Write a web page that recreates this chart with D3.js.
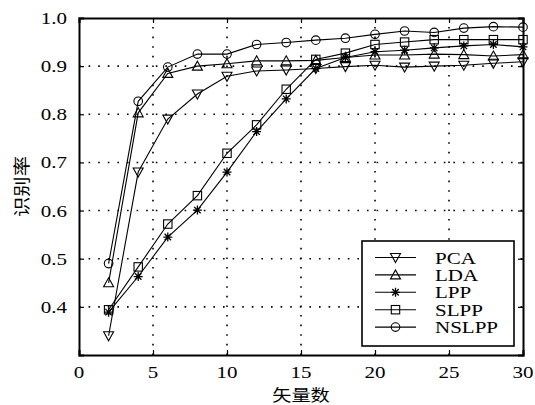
<!DOCTYPE html>
<html>
<head>
<meta charset="utf-8">
<script src="https://cdn.jsdelivr.net/npm/d3@7"></script>
<style>
  html, body { margin: 0; padding: 0; background: #fff; }
  svg { display: block; }
</style>
</head>
<body>
<div id="chart"></div>
<script>
// ---- data ----
const xValues = [2, 4, 6, 8, 10, 12, 14, 16, 18, 20, 22, 24, 26, 28, 30];
const seriesNames = ["PCA", "LDA", "LPP", "SLPP", "NSLPP"];
const pcaValues   = [0.340, 0.680, 0.790, 0.842, 0.879, 0.890, 0.892, 0.895, 0.899, 0.902, 0.898, 0.900, 0.902, 0.906, 0.909];
const ldaValues   = [0.450, 0.803, 0.885, 0.900, 0.905, 0.911, 0.911, 0.912, 0.918, 0.923, 0.923, 0.925, 0.924, 0.921, 0.924];
const lppValues   = [0.389, 0.463, 0.545, 0.601, 0.680, 0.764, 0.832, 0.895, 0.918, 0.930, 0.933, 0.938, 0.942, 0.945, 0.940];
const slppValues  = [0.394, 0.483, 0.572, 0.631, 0.719, 0.778, 0.852, 0.914, 0.927, 0.945, 0.950, 0.955, 0.955, 0.955, 0.955];
const nslppValues = [0.490, 0.827, 0.898, 0.925, 0.925, 0.945, 0.949, 0.954, 0.958, 0.966, 0.973, 0.970, 0.979, 0.982, 0.981];
const markerTypes = ["triDown", "triUp", "star", "square", "circle"];
const xTicks = [0, 5, 10, 15, 20, 25, 30];
const yTicks = [0.4, 0.5, 0.6, 0.7, 0.8, 0.9, 1.0];
const xTitle = "矢量数";
const yTitle = "识别率";

const seriesValues = [pcaValues, ldaValues, lppValues, slppValues, nslppValues];

// ---- layout ----
const W = 535, H = 405;
const m = { left: 79, right: 12, top: 18, bottom: 50 };
const svg = d3.select("#chart").append("svg").attr("width", W).attr("height", H);

const x = d3.scaleLinear().domain([0, 30]).range([m.left, W - m.right]);
const y = d3.scaleLinear().domain([0.3, 1.0]).range([H - m.bottom, m.top]);

const serif = "'Liberation Serif', 'DejaVu Serif', serif";
const cjk = "'Noto Sans CJK SC', sans-serif";
const SX = 1.2;

function label(g, tx, ty, str, opts) {
  return g.append("text")
    .attr("transform", `translate(${tx},${ty}) scale(${SX},1)`)
    .attr("text-anchor", opts.anchor || "middle")
    .attr("font-family", opts.family || serif)
    .attr("font-size", opts.size || 17.5)
    .attr("fill", "#000")
    .text(str);
}

// grid (dotted)
const grid = svg.append("g");
xTicks.filter(t => t > 0 && t < 30).forEach(t => {
  grid.append("line").attr("x1", x(t)).attr("x2", x(t)).attr("y1", y(0.3)).attr("y2", y(1.0))
    .attr("stroke", "#000").attr("stroke-width", 1.6).attr("stroke-dasharray", "1.6,8");
});
yTicks.filter(t => t < 1.0).forEach(t => {
  grid.append("line").attr("x1", x(0)).attr("x2", x(30)).attr("y1", y(t)).attr("y2", y(t))
    .attr("stroke", "#000").attr("stroke-width", 1.6).attr("stroke-dasharray", "1.6,8");
});

// axes with inward ticks, mirrored
const axB = d3.axisBottom(x).tickValues(xTicks).tickSize(-5).tickFormat("");
const axT = d3.axisTop(x).tickValues(xTicks).tickSize(-5).tickFormat("");
const axL = d3.axisLeft(y).tickValues(yTicks).tickSize(-5).tickFormat("");
const axR = d3.axisRight(y).tickValues(yTicks).tickSize(-5).tickFormat("");
[[axB, `translate(0,${y(0.3)})`], [axT, `translate(0,${y(1.0)})`],
 [axL, `translate(${x(0)},0)`], [axR, `translate(${x(30)},0)`]].forEach(([ax, tr]) => {
  const g = svg.append("g").attr("transform", tr).call(ax);
  g.select(".domain").attr("stroke", "#000").attr("stroke-width", 2);
  g.selectAll(".tick line").attr("stroke", "#000").attr("stroke-width", 1.2);
});

// tick labels
const tl = svg.append("g");
xTicks.forEach(t => label(tl, x(t), y(0.3) + 23, String(t), {}));
yTicks.forEach(t => label(tl, x(0) - 12, y(t) + 6, t.toFixed(1), { anchor: "end" }));

// titles
label(svg, x(15), 401, xTitle, { family: cjk, size: 16 });
svg.append("text")
  .attr("transform", `translate(28,${(y(0.3) + y(1.0)) / 2}) rotate(-90) scale(${SX},1)`)
  .attr("text-anchor", "middle").attr("font-family", cjk).attr("font-size", 17)
  .attr("fill", "#000").text(yTitle);

// markers
function drawMarker(g, type, cx, cy) {
  const s = "#000", sw = 1.1;
  if (type === "circle") {
    g.append("circle").attr("cx", cx).attr("cy", cy).attr("r", 4.3)
      .attr("fill", "none").attr("stroke", s).attr("stroke-width", sw);
  } else if (type === "square") {
    g.append("rect").attr("x", cx - 4.2).attr("y", cy - 4.2).attr("width", 8.4).attr("height", 8.4)
      .attr("fill", "none").attr("stroke", s).attr("stroke-width", sw);
  } else if (type === "triUp") {
    g.append("path").attr("d", `M${cx},${cy - 5}L${cx + 5},${cy + 4}L${cx - 5},${cy + 4}Z`)
      .attr("fill", "none").attr("stroke", s).attr("stroke-width", sw);
  } else if (type === "triDown") {
    g.append("path").attr("d", `M${cx},${cy + 5}L${cx + 5},${cy - 4}L${cx - 5},${cy - 4}Z`)
      .attr("fill", "none").attr("stroke", s).attr("stroke-width", sw);
  } else if (type === "star") {
    const r = 4.5;
    let d = `M${cx - r},${cy}L${cx + r},${cy}M${cx},${cy - r}L${cx},${cy + r}`;
    const q = r * 0.72;
    d += `M${cx - q},${cy - q}L${cx + q},${cy + q}M${cx - q},${cy + q}L${cx + q},${cy - q}`;
    g.append("path").attr("d", d).attr("fill", "none").attr("stroke", s).attr("stroke-width", 1.3);
  }
}

const line = d3.line().x(d => x(d[0])).y(d => y(d[1]));
const plot = svg.append("g");
seriesValues.forEach((vals, i) => {
  const pts = xValues.map((xv, j) => [xv, vals[j]]);
  plot.append("path").datum(pts).attr("d", line)
    .attr("fill", "none").attr("stroke", "#000").attr("stroke-width", 1.1);
  const mg = plot.append("g");
  pts.forEach(p => drawMarker(mg, markerTypes[i], x(p[0]), y(p[1])));
});

// legend
const lg = svg.append("g");
const lx0 = 362, ly0 = 241, lw = 152, lh = 105;
lg.append("rect").attr("x", lx0).attr("y", ly0).attr("width", lw).attr("height", lh)
  .attr("fill", "#fff").attr("stroke", "#000").attr("stroke-width", 1.6);
seriesNames.forEach((name, i) => {
  const yy = 257.5 + i * 17.4;
  lg.append("line").attr("x1", 375).attr("x2", 416).attr("y1", yy).attr("y2", yy)
    .attr("stroke", "#000").attr("stroke-width", 1.1);
  drawMarker(lg, markerTypes[i], 395.5, yy);
  label(lg, 435, yy + 6, name, { anchor: "start" });
});
</script>
</body>
</html>
